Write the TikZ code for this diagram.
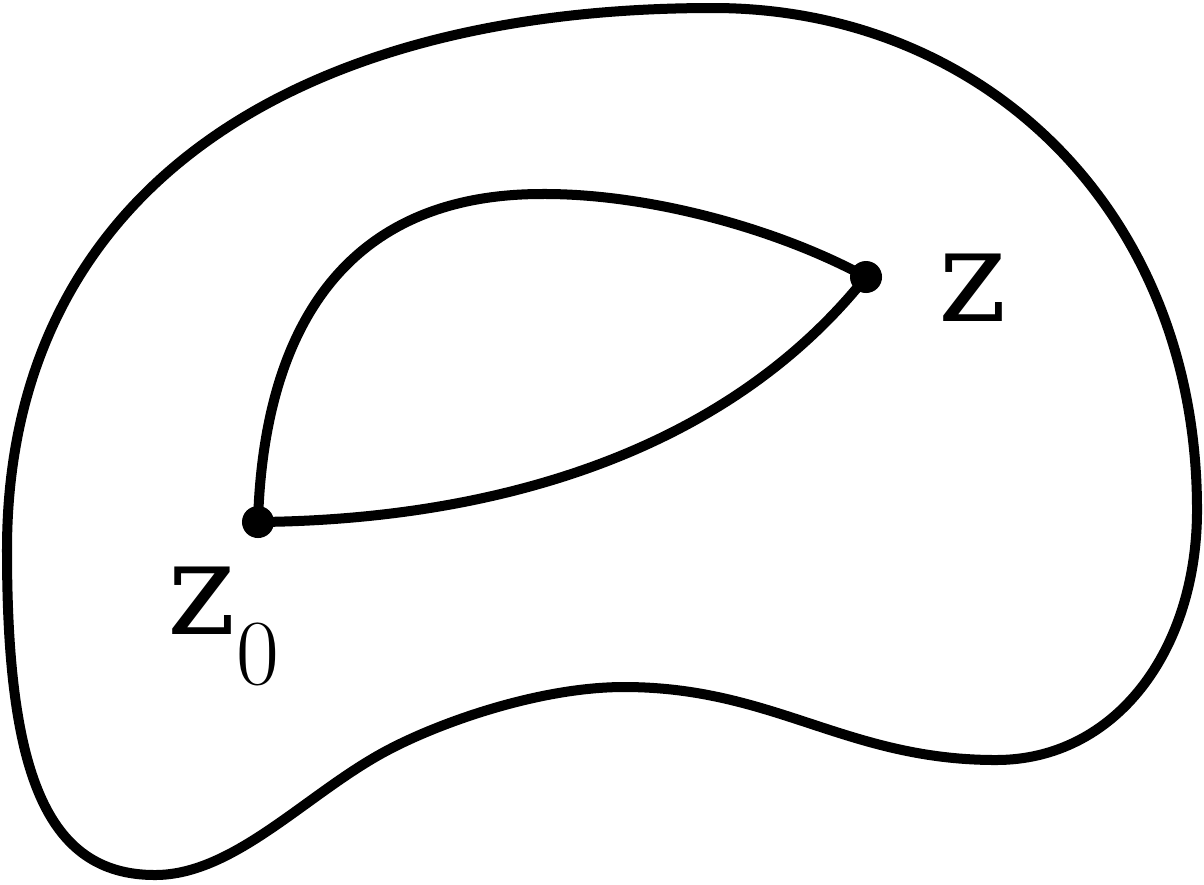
\documentclass[tikz,border=0pt]{standalone}
\usepackage{fontspec}
\usepackage{tikz}
\usetikzlibrary{positioning,calc}
\newfontfamily\zfont{DejaVu Serif}

\begin{document}
\begin{tikzpicture}[
    x=0.01cm, y=-0.01cm,
    curve/.style={line width=0.1cm, line join=round, line cap=round},
    pt/.style={circle, fill=black, inner sep=0pt, minimum size=0.32cm},
    lbl/.style={inner sep=0pt, font=\zfont\fontsize{37}{37}\selectfont}
]
\useasboundingbox (0,0) rectangle (1204,884);

% outer region
\draw[curve] (713,8) .. controls (983,8) and (1197,210) .. (1197,510)
    .. controls (1197,650) and (1116,760) .. (996,760)
    .. controls (846,760) and (774,687) .. (624,687)
    .. controls (540,687) and (441,722) .. (388,750)
    .. controls (308,792) and (235,875) .. (155,875)
    .. controls (45,875) and (7,770) .. (7,550)
    .. controls (7,195) and (288,8) .. cycle;

% end points
\node[pt] (z0) at (258,522) {};
\node[pt] (z) at (866,277) {};

% two paths from z0 to z
\draw[curve] (z0.center) .. controls (262,380) and (310,195) .. (540,194)
    .. controls (650,193) and (780,230) .. (z.center);
\draw[curve] (z0.center) .. controls (480,520) and (720,460) .. (z.center);

% labels
\node[lbl, anchor=base west] (zlab) at (938,321) {z};
\node[lbl, anchor=base west] (z0lab) at (167,634) {z\raisebox{-0.5cm}{\normalfont\fontsize{26.5}{26.5}\selectfont 0}};
\end{tikzpicture}
\end{document}
